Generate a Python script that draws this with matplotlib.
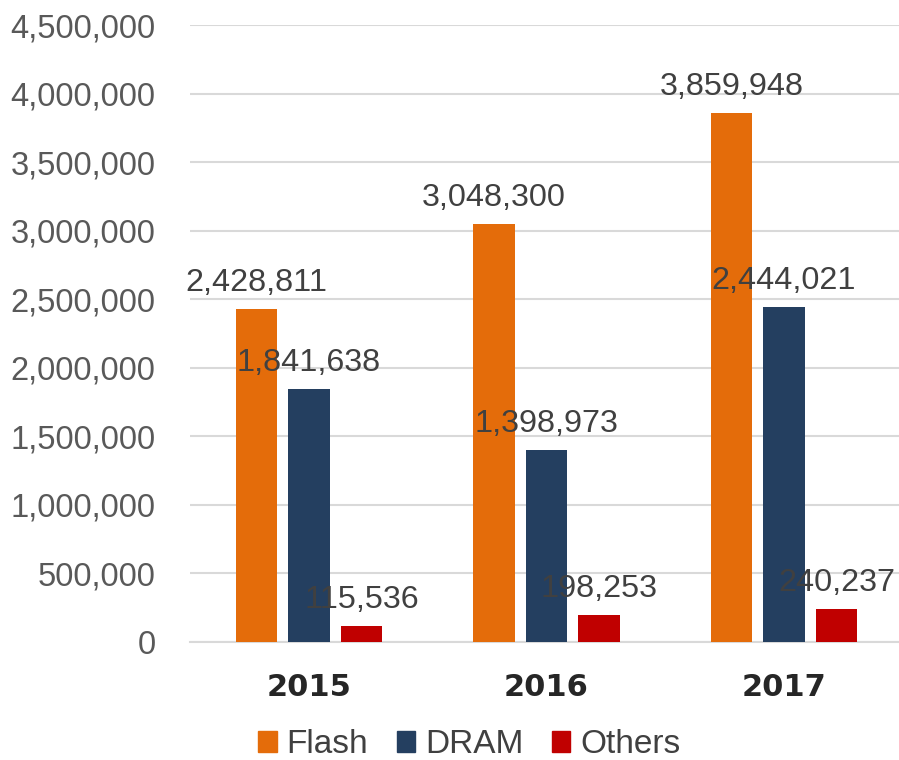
import numpy as np
import matplotlib.pyplot as plt
from matplotlib.ticker import FuncFormatter
from matplotlib.patches import Patch

years = ["2015", "2016", "2017"]
flash = [2428811, 3048300, 3859948]
dram = [1841638, 1398973, 2444021]
others = [115536, 198253, 240237]

series = [("Flash", flash, "#E46C0A"),
          ("DRAM", dram, "#243F60"),
          ("Others", others, "#C00000")]

plt.rcParams["font.family"] = ["Liberation Sans", "DejaVu Sans"]

fig = plt.figure(figsize=(8.99, 7.6), dpi=100)
ax = fig.add_axes([0.2116, 0.1553, 0.7925, 0.8118])

x = np.arange(len(years))
width = 0.176
step = 0.221

for i, (name, vals, color) in enumerate(series):
    pos = x + (i - 1) * step
    bars = ax.bar(pos, vals, width, color=color, label=name, zorder=3)
    for b, v in zip(bars, vals):
        ax.annotate(f"{v:,}", (b.get_x() + b.get_width() / 2, v),
                    xytext=(0, 8), textcoords="offset points",
                    ha="center", va="bottom", fontsize=23.3, color="#404040",
                    zorder=4)

ax.set_ylim(0, 4500000)
ax.set_xlim(-0.5, 2.5)
ax.set_yticks(np.arange(0, 4500001, 500000))
ax.yaxis.set_major_formatter(FuncFormatter(lambda v, p: f"{int(v):,}"))
ax.set_xticks(x)
ax.set_xticklabels(years, fontfamily="DejaVu Sans", fontweight="bold",
                   fontsize=22, color="#262626")

ax.tick_params(axis="y", length=0, pad=25, labelsize=23.5, labelcolor="#595959")
ax.tick_params(axis="x", length=0, pad=22)

ax.grid(axis="y", color="#D9D9D9", linewidth=1.5, zorder=0)
for s in ["left", "right", "top"]:
    ax.spines[s].set_visible(False)
ax.spines["bottom"].set_color("#D9D9D9")
ax.spines["bottom"].set_linewidth(1.5)

handles = [Patch(color=c, label=n) for n, _, c in series]
fig.legend(handles=handles, loc="center", bbox_to_anchor=(0.522, 0.02),
           ncol=3, frameon=False, fontsize=24, handlelength=0.55,
           handleheight=0.55, handletextpad=0.3, columnspacing=0.85,
           labelcolor="#404040", borderpad=0.2)

fig.savefig("out.png", dpi=100)
